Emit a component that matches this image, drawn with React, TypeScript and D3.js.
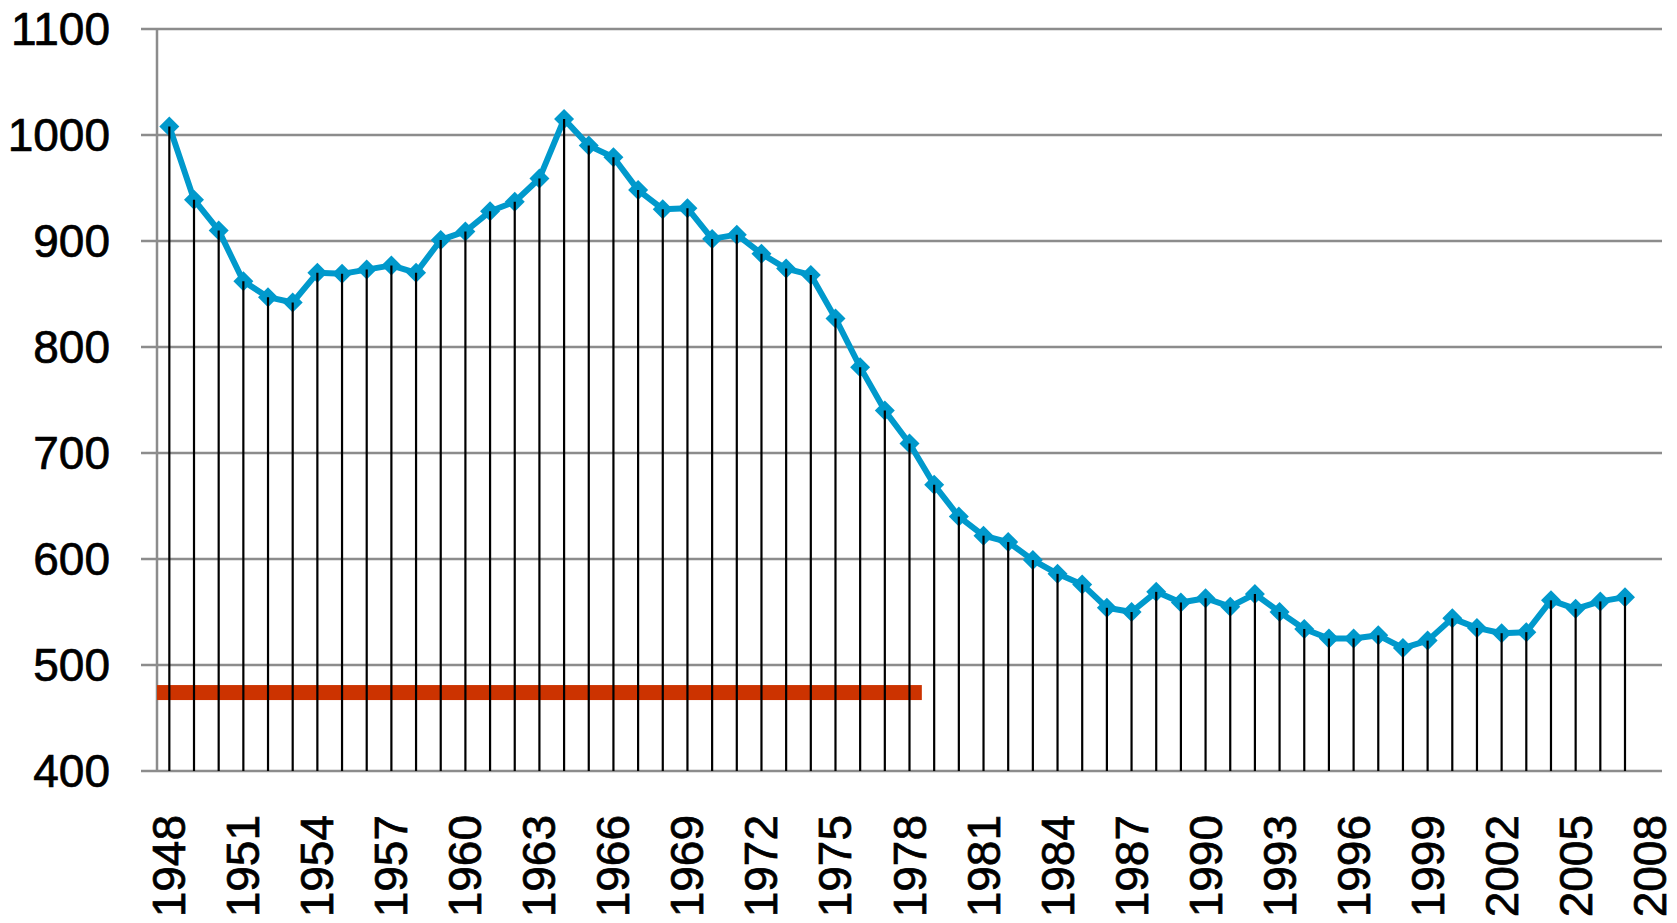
import * as d3 from "d3";
import { useEffect, useRef } from "react";

// years on the category axis (2008 has a slot but no value)
const years: number[] = d3.range(1948, 2009);

const values: number[] = [
  1008, 939, 910, 862, 847, 842, 870, 869, 873, 877,
  870, 901, 909, 928, 937, 959, 1015, 990, 979, 948,
  930, 931, 902, 906, 888, 874, 868, 827, 781, 740,
  709, 670, 640, 622, 616, 599, 586, 576, 554, 550,
  569, 559, 563, 555, 567, 550, 534, 525, 525, 528,
  516, 523, 544, 535, 530, 531, 561, 553, 560, 564,
];

const yTicks: number[] = [400, 500, 600, 700, 800, 900, 1000, 1100];
const xLabels: number[] = d3.range(1948, 2009, 3);

// horizontal reference bar
const periodStart = 1948;
const periodEnd = 1978;
const periodValue = 474;

const App = () => {
  const ref = useRef<SVGSVGElement>(null);

  useEffect(() => {
    const width = 1677;
    const height = 923;
    const margin = { top: 29, right: 15, bottom: 152, left: 157 };
    const lineColor = "#0099cc";

    const svg = d3.select(ref.current);
    svg.selectChildren().remove();

    const x = d3.scaleBand<number>()
      .domain(years)
      .range([margin.left, width - margin.right])
      .padding(0);
    const cx = (d: number) => (x(d) as number) + x.bandwidth() / 2;

    const y = d3.scaleLinear()
      .domain([400, 1100])
      .range([height - margin.bottom, margin.top]);

    // grid lines
    svg.append("g")
      .selectAll("line")
      .data(yTicks)
      .join("line")
      .attr("x1", margin.left - 16)
      .attr("x2", width - margin.right)
      .attr("y1", d => y(d))
      .attr("y2", d => y(d))
      .attr("stroke", "#8c8c8c")
      .attr("stroke-width", 2.5);

    // y axis line
    svg.append("line")
      .attr("x1", margin.left)
      .attr("x2", margin.left)
      .attr("y1", y(1100))
      .attr("y2", y(400))
      .attr("stroke", "#8c8c8c")
      .attr("stroke-width", 2.5);

    // y labels
    svg.append("g")
      .selectAll("text")
      .data(yTicks)
      .join("text")
      .attr("x", 110)
      .attr("y", d => y(d))
      .attr("text-anchor", "end")
      .attr("dominant-baseline", "central")
      .style("font-family", "'Liberation Sans', Arial, sans-serif")
      .style("font-size", "46px")
      .style("stroke", "#000")
      .style("stroke-width", "0.7px")
      .text(d => d);

    // x labels, rotated
    svg.append("g")
      .selectAll("text")
      .data(xLabels)
      .join("text")
      .attr("transform", d => `translate(${cx(d)}, ${y(400) + 44}) rotate(-90)`)
      .attr("text-anchor", "end")
      .attr("dominant-baseline", "central")
      .style("font-family", "'Liberation Sans', Arial, sans-serif")
      .style("font-size", "46px")
      .style("stroke", "#000")
      .style("stroke-width", "0.7px")
      .text(d => d);

    const data = values.map((v, i) => ({ year: years[i], value: v }));

    // red period bar
    svg.append("rect")
      .attr("x", x(periodStart) as number)
      .attr("width", (x(periodEnd) as number) + x.bandwidth() - (x(periodStart) as number))
      .attr("y", y(periodValue) - 7.5)
      .attr("height", 15)
      .attr("fill", "#cc3300");

    // the series line
    svg.append("path")
      .datum(data)
      .attr("fill", "none")
      .attr("stroke", lineColor)
      .attr("stroke-width", 6)
      .attr("stroke-linejoin", "round")
      .attr("d", d3.line<{ year: number; value: number }>()
        .x(d => cx(d.year))
        .y(d => y(d.value)));

    // diamond markers
    svg.append("g")
      .selectAll("path")
      .data(data)
      .join("path")
      .attr("transform", d => `translate(${cx(d.year)}, ${y(d.value)})`)
      .attr("d", "M0,-10L10,0L0,10L-10,0Z")
      .attr("fill", lineColor);

    // drop lines
    svg.append("g")
      .selectAll("line")
      .data(data)
      .join("line")
      .attr("x1", d => cx(d.year))
      .attr("x2", d => cx(d.year))
      .attr("y1", d => y(d.value))
      .attr("y2", y(400))
      .attr("stroke", "#000")
      .attr("stroke-width", 2.2);
  });

  return (
    <div style={{ position: "absolute", left: 0, top: 0 }}>
      <svg ref={ref} width={1677} height={923} style={{ display: "block", background: "#fff" }} />
    </div>
  );
};

export default App;
